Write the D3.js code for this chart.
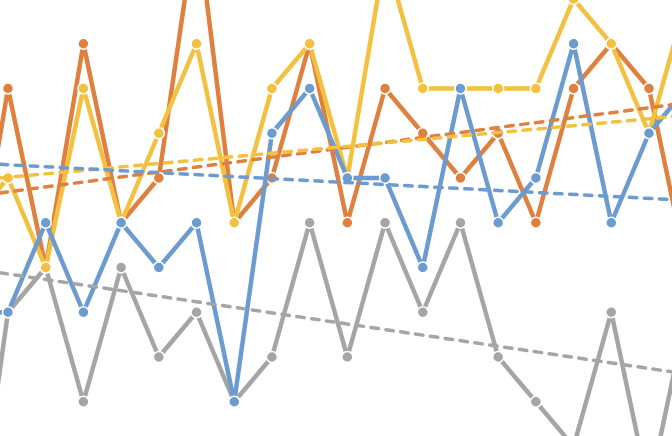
<!DOCTYPE html>
<html>
<head>
<meta charset="utf-8">
<script src="https://cdn.jsdelivr.net/npm/d3@7"></script>
<style>
	body { margin: 0; background: #fff; overflow: hidden; }
	svg { display: block; }
</style>
</head>
<body>
<div id="chart"></div>
<script>
// point index runs from -1 (just off the left edge) to 18 (just off the right edge)
var idx = d3.range(-1, 19);

var orange = [5, 30, 10, 35, 15, 20, 49, 15, 20, 35, 15, 30, 25, 20, 25, 15, 30, 35, 30, 10];
var yellow = [15, 20, 10, 30, 15, 25, 35, 15, 30, 35, 20, 45, 30, 30, 30, 30, 40, 35, 25, 40];
var blue   = [5, 5, 15, 5, 15, 10, 15, -5, 25, 30, 20, 20, 10, 30, 15, 20, 35, 15, 25, 30];
var gray   = [-25, 5, 10, -5, 10, 0, 5, -5, 0, 15, 0, 15, 5, 15, 0, -5, -10, 5, -15, 5];

// trend lines: value at index -1 and at index 18
var trendOrange = [17.9, 28.4];
var trendYellow = [19.7, 27.0];
var trendBlue   = [21.7, 17.5];
var trendGray   = [9.9, -1.9];

var gridTicks = [-10, 0, 10, 20, 30, 40];

var width = 672, height = 436;

var svg = d3.select("#chart").append("svg")
	.attr("width", width)
	.attr("height", height);

var x = d3.scaleLinear().domain([0, 17]).range([8, 649]);
var y = d3.scaleLinear().domain([0, 30]).range([357, 88.5]);

// gridlines
var grid = svg.append("g")
	.call(d3.axisLeft(y).tickValues(gridTicks).tickSize(-width * 2).tickFormat(""))
	.attr("transform", "translate(" + width + ",0)");
grid.select(".domain").remove();
grid.selectAll("line").attr("stroke", "#d9d9d9").attr("stroke-width", 2);

var line = d3.line().x(function (d) { return x(d.i); }).y(function (d) { return y(d.v); });

function series(vals, color) {
	var pts = vals.map(function (v, k) { return { i: idx[k], v: v }; });
	svg.append("path").datum(pts)
		.attr("d", line)
		.attr("fill", "none")
		.attr("stroke", color)
		.attr("stroke-width", 4.5)
		.attr("stroke-linejoin", "round");
	svg.selectAll(null).data(pts).enter().append("circle")
		.attr("cx", function (d) { return x(d.i); })
		.attr("cy", function (d) { return y(d.v); })
		.attr("r", 5.5)
		.attr("fill", color)
		.attr("stroke", "white")
		.attr("stroke-width", 1.5);
}

function trend(ends, color) {
	var pts = [{ i: -1, v: ends[0] }, { i: 18, v: ends[1] }];
	svg.append("path").datum(pts)
		.attr("d", line)
		.attr("fill", "none")
		.attr("stroke", color)
		.attr("stroke-width", 3.5)
		.attr("stroke-linecap", "round")
		.attr("stroke-dasharray", "7.5,7.5");
}

series(gray, "#a5a5a5");
series(orange, "#e0803f");
series(yellow, "#f3c040");
series(blue, "#6b9bd1");

trend(trendGray, "#a5a5a5");
trend(trendOrange, "#e0803f");
trend(trendYellow, "#f3c040");
trend(trendBlue, "#6b9bd1");
</script>
</body>
</html>
